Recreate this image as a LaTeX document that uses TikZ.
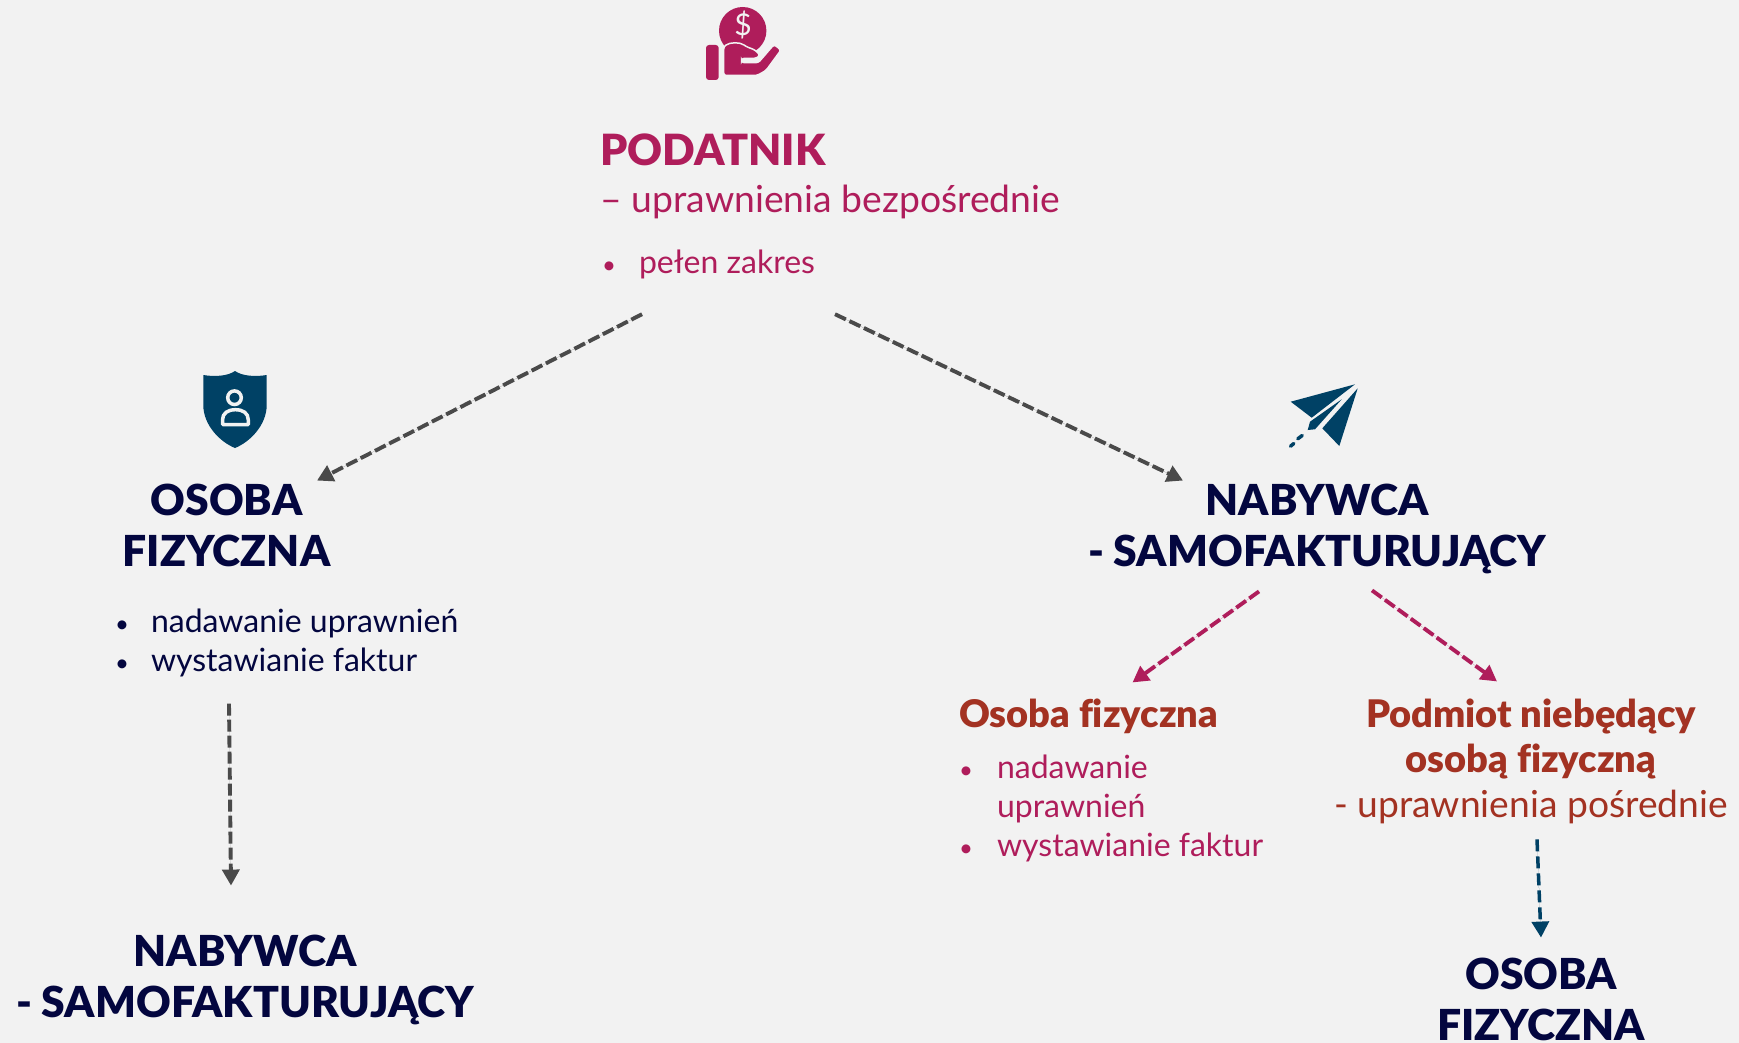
\documentclass[tikz,border=0pt]{standalone}
\usepackage{fontspec}
\setmainfont[Ligatures=NoCommon,BoldFont={Lato Black}]{Lato}
\usetikzlibrary{arrows.meta, positioning}
\definecolor{tlo}{HTML}{F2F2F2}
\definecolor{roz}{HTML}{AF1D5B}
\definecolor{gran}{HTML}{03063F}
\definecolor{morski}{HTML}{004165}
\definecolor{ceg}{HTML}{A33222}
\definecolor{szary}{HTML}{4A4A4A}
\tikzset{
  tekst/.style={inner sep=0pt, outer sep=0pt},
  tytul/.style={tekst, font=\fontsize{42.7}{51}\selectfont\bfseries, text=gran, align=center},
  lista/.style={tekst, font=\fontsize{32}{39}\selectfont},
  podtytul/.style={tekst, font=\fontsize{38}{45}\selectfont\bfseries, text=ceg, align=center},
  strz/.style={-{Triangle[length=16pt,width=17pt]}, dash pattern=on 12pt off 4pt, line width=3.9pt, draw=szary, fill=szary},
  strzroz/.style={strz, draw=roz, fill=roz},
  strzmor/.style={strz, draw=morski, fill=morski, dash pattern=on 12pt off 5pt, line width=3.5pt}
}
\newcommand{\punkty}[2]{\begin{tabular}[t]{@{}p{#1}@{}l@{}}#2\end{tabular}}
\newcommand{\kropka}{{\fontsize{24}{24}\selectfont•}}
\begin{document}
\begin{tikzpicture}[x=1pt,y=-1pt]
  \fill[tlo] (0,0) rectangle (1739,1043);
  \useasboundingbox (0,0) rectangle (1739,1043);
  % ikona: moneta na dloni
  \fill[roz] (742.7,30.7) circle (23.7);
  \node[tekst, text=tlo, font=\fontsize{30}{30}\selectfont] (dolar) at (743,25) {\$};
  \fill[roz, rounded corners=3pt] (706,45) rectangle (718.7,80);
  \path[fill=roz, draw=tlo, line width=1.5pt, rounded corners=2.5pt] (723.7,75.5) -- (723.7,46.7)
     .. controls (730,42) and (740,42) .. (746,46.5) -- (755,50) -- (760,55) -- (756.7,58.3)
     -- (741.7,58.3) -- (741.7,62.7) -- (758.3,62.7) -- (774,44.5) -- (781,50)
     -- (766,70.5) -- (757,75.5) -- cycle;
  % ikona: tarcza
  \fill[morski] (203.3,375) .. controls (215,377) and (228,376) .. (235,371)
     .. controls (242,376) and (255,377) .. (266.7,375) -- (266.7,405)
     .. controls (266.7,425) and (250,442) .. (235,448)
     .. controls (220,442) and (203.3,425) .. (203.3,405) -- cycle;
  \draw[tlo, line width=3.5pt] (234.5,397.7) circle (6.8);
  \draw[tlo, line width=3.5pt, line join=round] (222.5,424.5) -- (222.5,420)
     .. controls (222.5,413) and (228,409.7) .. (235.4,409.7)
     .. controls (243,409.7) and (248.3,413) .. (248.3,420) -- (248.3,424.5) -- cycle;
  % ikona: samolot
  \fill[morski] (1290.7,401.7) -- (1355,384.3) -- (1311.7,417.7) -- cycle;
  \fill[morski] (1357.7,388.3) -- (1339.3,446) -- (1322.3,428.3) -- cycle;
  \fill[morski] (1341.7,399.3) -- (1310,421.7) -- (1307.7,430) -- (1315,429.3) -- cycle;
  \draw[morski, line width=3.5pt, line cap=round] (1297.8,438.8) -- (1302.2,435.5)
     (1290.5,446.2) -- (1293.8,443.5);

  \node[tekst, anchor=base west, text=roz, font=\fontsize{43}{51}\selectfont\bfseries] (podatnik) at (600.5,166) {PODATNIK};
  \node[tekst, below=46pt of podatnik.base west, anchor=base west, text=roz, font=\fontsize{37.3}{42}\selectfont] (podzakres) {– uprawnienia bezpośrednie};
  \node[lista, anchor=base west, text=roz] (podlista) at (602,273) {\punkty{37pt}{\kropka&pełen zakres}};

  \node[tytul, anchor=base] (osoba) at (226.5,566) {OSOBA\\FIZYCZNA};
  \node[lista, anchor=base west, text=gran] (osobalista) at (115,632) {\punkty{36pt}{\kropka&nadawanie uprawnień\\\kropka&wystawianie faktur}};
  \node[tytul, anchor=base] (nabywca) at (245,1017) {NABYWCA\\- SAMOFAKTURUJĄCY};

  \node[tytul, anchor=base] (samofakt) at (1317,566) {NABYWCA\\- SAMOFAKTURUJĄCY};
  \node[podtytul, anchor=base west] (fizyczna) at (959,727) {Osoba fizyczna};
  \node[lista, below=51pt of fizyczna.base west, anchor=base west, text=roz] (fizlista) {\punkty{38pt}{\kropka&nadawanie\\&uprawnień\\\kropka&wystawianie faktur}};
  \node[podtytul, anchor=base] (podmiot) at (1531,817) {Podmiot niebędący\\osobą fizyczną\\{\fontsize{37.2}{45}\selectfont\mdseries - uprawnienia pośrednie}};
  \node[tytul, anchor=base] (osobadol) at (1541,1040) {OSOBA\\FIZYCZNA};

  \draw[strz] ([xshift=40pt,yshift=-29.5pt]podlista.south west) -- ([xshift=90.5pt,yshift=3pt]osoba.north);
  \draw[strz] ([xshift=233pt,yshift=-29.5pt]podlista.south west) -- ([xshift=-134pt,yshift=3pt]samofakt.north);
  \draw[strz] ([xshift=114pt,yshift=-21pt]osobalista.south west) -- ([xshift=-14pt,yshift=49pt]nabywca.north);
  \draw[strzroz] ([xshift=-58pt,yshift=-18pt]samofakt.south) -- ([xshift=44pt,yshift=16pt]fizyczna.north);
  \draw[strzroz] ([xshift=55pt,yshift=-17pt]samofakt.south) -- ([xshift=-34pt,yshift=17pt]podmiot.north);
  \draw[strzmor] ([xshift=6pt,yshift=-16pt]podmiot.south) -- ([yshift=20pt]osobadol.north);
\end{tikzpicture}
\end{document}
